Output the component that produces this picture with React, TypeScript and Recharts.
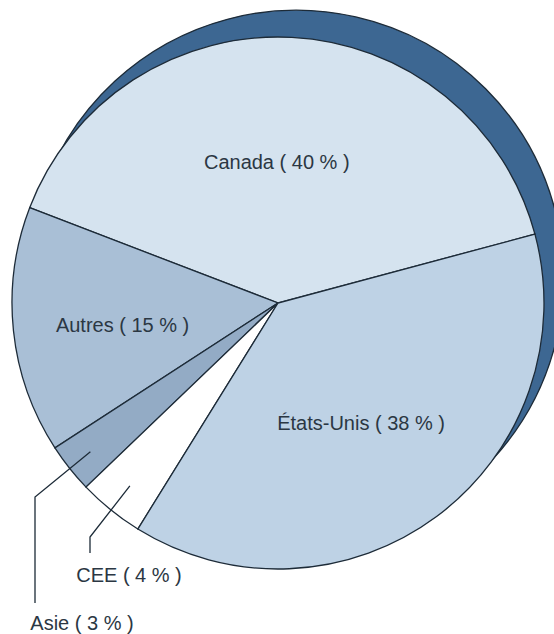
import React from 'react';
import { PieChart, Pie, Cell } from 'recharts';

// Parts by destination (%)
const REGIONS = ['Canada', 'Autres', 'Asie', 'CEE', 'États-Unis'];
const SHARES = [40, 15, 3, 4, 38];
const FILLS = ['#d5e3ef', '#a9bfd6', '#93abc5', '#ffffff', '#bed2e5'];

const data = REGIONS.map((name, i) => ({ name, value: SHARES[i] }));
const backing = [{ name: 'fond', value: 1 }];

const OUTLINE = '#1d2b38';
const TEXT = '#2b3743';
const FONT = '"Liberation Sans", Arial, Helvetica, sans-serif';

const RAD = Math.PI / 180;
const polar = (cx: number, cy: number, r: number, a: number) => ({
  x: cx + r * Math.cos(-a * RAD),
  y: cy + r * Math.sin(-a * RAD)
});

// label placement: inside slices, or pulled out with a leader line
const INSIDE: Record<string, { shift: number; ratio: number }> = {
  Canada: { shift: 3.5, ratio: 0.53 },
  Autres: { shift: 2, ratio: 0.59 },
  'États-Unis': { shift: -2, ratio: 0.55 }
};
const OUTSIDE: Record<string, { from: number; elbow: [number, number]; end: number; text: [number, number] }> = {
  Asie: { from: 0.9, elbow: [-243, 194], end: 300, text: [-196, 320] },
  CEE: { from: 0.885, elbow: [-188, 234], end: 250, text: [-149, 272] }
};

const renderLabel = (props: any) => {
  const { cx, cy, midAngle, outerRadius } = props;
  const name = props.payload?.name ?? props.name;
  const value = props.payload?.value ?? props.value;
  const label = `${name} ( ${value} % )`;
  const textProps = {
    fill: TEXT,
    fontSize: 20,
    fontFamily: FONT,
    textAnchor: 'middle' as const,
    dominantBaseline: 'central' as const
  };

  if (INSIDE[name]) {
    const { shift, ratio } = INSIDE[name];
    const p = polar(cx, cy, outerRadius * ratio, midAngle + shift);
    return <text x={p.x} y={p.y} {...textProps}>{label}</text>;
  }
  const o = OUTSIDE[name];
  const s = polar(cx, cy, outerRadius * o.from, midAngle);
  const ex = cx + o.elbow[0];
  const ey = cy + o.elbow[1];
  return (
    <g>
      <polyline
        points={`${s.x},${s.y} ${ex},${ey} ${ex},${cy + o.end}`}
        fill="none"
        stroke={OUTLINE}
        strokeWidth={1.3}
      />
      <text x={cx + o.text[0]} y={cy + o.text[1]} {...textProps}>{label}</text>
    </g>
  );
};

export default function App() {
  return (
    <div style={{ position: 'absolute', left: 0, top: 0, width: 554, height: 634, background: '#ffffff' }}>
      <PieChart width={554} height={634} margin={{ top: 0, right: 0, bottom: 0, left: 0 }}>
        {/* dark back face, offset up and right */}
        <Pie
          data={backing}
          dataKey="value"
          cx={296}
          cy={277.5}
          outerRadius={267.5}
          startAngle={225}
          endAngle={585}
          fill="#3d6792"
          stroke={OUTLINE}
          strokeWidth={1.3}
          label={false}
          labelLine={false}
          isAnimationActive={false}
        />
        <Pie
          data={data}
          dataKey="value"
          nameKey="name"
          cx={278}
          cy={303}
          outerRadius={266}
          startAngle={15}
          endAngle={375}
          stroke={OUTLINE}
          strokeWidth={1.3}
          label={renderLabel}
          labelLine={false}
          isAnimationActive={false}
        >
          {data.map((d, i) => (
            <Cell key={d.name} fill={FILLS[i]} />
          ))}
        </Pie>
      </PieChart>
    </div>
  );
}
